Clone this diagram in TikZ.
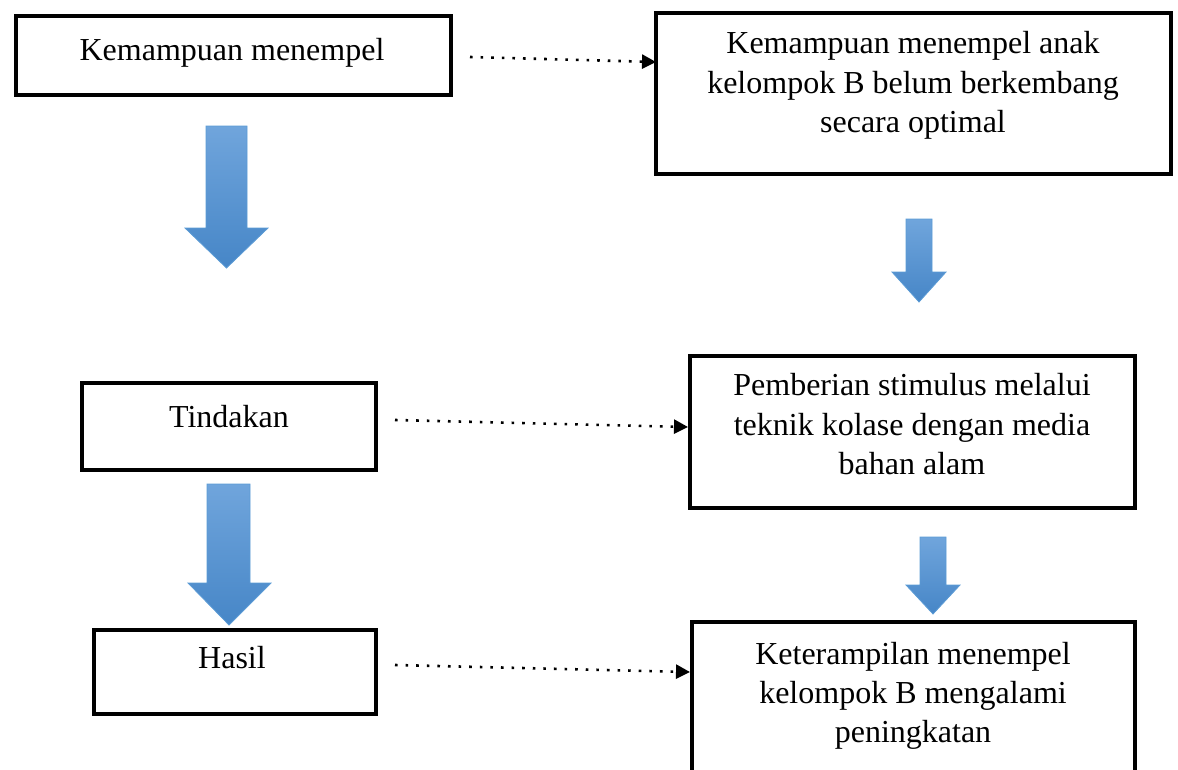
\documentclass[tikz,border=0pt]{standalone}
\usepackage{fontspec}
\setmainfont{Liberation Serif}
\usetikzlibrary{arrows.meta,calc}
\definecolor{arrtop}{RGB}{112,165,220}
\definecolor{arrbot}{RGB}{70,134,199}
\definecolor{arredge}{RGB}{91,155,213}
\tikzset{
  box/.style={draw=black, line width=4pt, inner sep=0pt, outer sep=0pt, fill=none},
  lbl/.style={anchor=base, inner sep=0pt, font=\fontsize{32}{40}\selectfont},
  dotconn/.style={line width=2.6pt, dash pattern=on 2.6pt off 8pt,
    -{Triangle[length=14pt,width=14pt]}},
  blockarrow/.style={top color=arrtop, bottom color=arrbot, draw=arredge, line width=0.8pt}
}
\begin{document}
\begin{tikzpicture}[x=1pt,y=-1pt]
\useasboundingbox (0,0) rectangle (1178,769);
\clip (0,0) rectangle (1178,769);
% boxes
\node[box, minimum width=435, minimum height=79] (b1) at (233.5,55.5) {};
\node[box, minimum width=515, minimum height=161] (b2) at (913.5,93.5) {};
\node[box, minimum width=294, minimum height=87] (b3) at (229,426.5) {};
\node[box, minimum width=445, minimum height=152] (b4) at (912.5,432) {};
\node[box, minimum width=282, minimum height=84] (b5) at (235,672) {};
\node[box, minimum width=443, minimum height=220] (b6) at (913.5,732) {};
% texts
\node[lbl] (t1) at (232,60) {Kemampuan menempel};
\node[lbl] (t2a) at (913,53) {Kemampuan menempel anak};
\node[lbl] (t2b) at (913,93) {kelompok B belum berkembang};
\node[lbl] (t2c) at (913,132) {secara optimal};
\node[lbl] (t3) at (229,427) {Tindakan};
\node[lbl] (t4a) at (912,395) {Pemberian stimulus melalui};
\node[lbl] (t4b) at (912,435) {teknik kolase dengan media};
\node[lbl] (t4c) at (912,474) {bahan alam};
\node[lbl] (t5) at (232,668) {Hasil};
\node[lbl] (t6a) at (913,664) {Keterampilan menempel};
\node[lbl] (t6b) at (913,703) {kelompok B mengalami};
\node[lbl] (t6c) at (913,742) {peningkatan};
% dotted connectors
\coordinate (d1) at (470,57);
\coordinate (d2) at (395,420);
\coordinate (d3) at (395,665);
\draw[dotconn] (d1) -- ([yshift=31.5pt]b2.west);
\draw[dotconn] (d2) -- ([yshift=5pt,xshift=-2pt]b4.west);
\draw[dotconn] (d3) -- ([yshift=0pt,xshift=-2pt]b6.west |- 0,672);
% block arrows
\path[blockarrow] (206,126) -- (247,126) -- (247,228) -- (268,228) -- (226.5,268)
  -- (185,228) -- (206,228) -- cycle;
\path[blockarrow] (906,219) -- (932,219) -- (932,272) -- (946,272) -- (919,302)
  -- (892,272) -- (906,272) -- cycle;
\path[blockarrow] (207,484) -- (250,484) -- (250,583) -- (271,583) -- (229,625)
  -- (188,583) -- (207,583) -- cycle;
\path[blockarrow] (920,537) -- (946,537) -- (946,585) -- (960,585) -- (933,614)
  -- (906,585) -- (920,585) -- cycle;
\end{tikzpicture}
\end{document}
